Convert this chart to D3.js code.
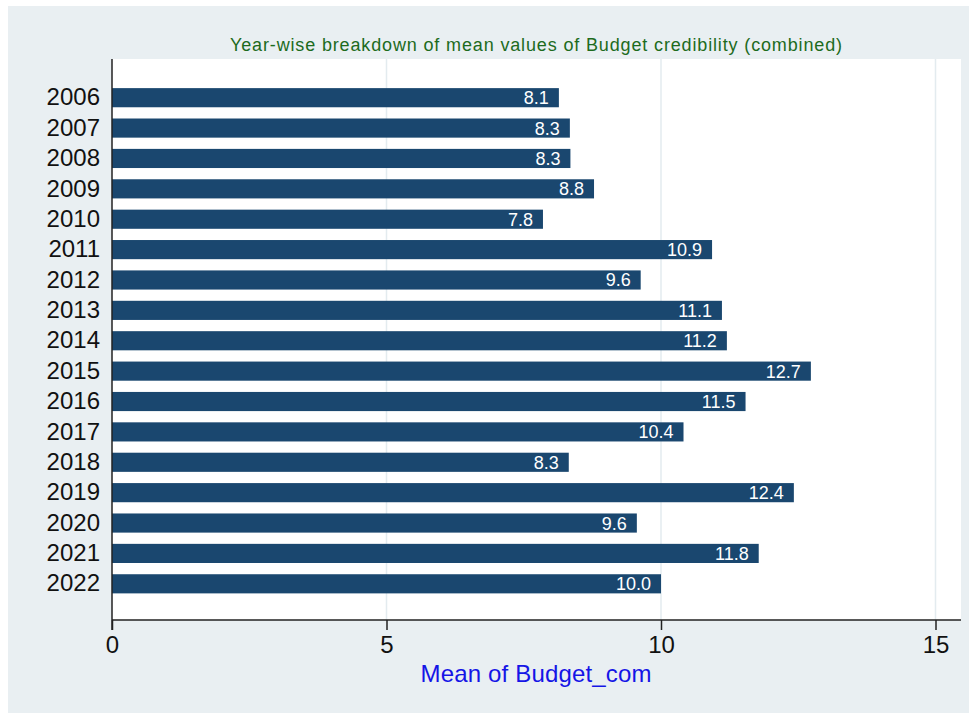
<!DOCTYPE html>
<html lang="en">
<head>
    <meta charset="utf-8">
    <title>Budget credibility by year</title>
    <script src="https://d3js.org/d3.v7.min.js"></script>
    <style>
        body {
            margin: 0;
            background: white;
            font-family: Arial, "Liberation Sans", Helvetica, sans-serif;
        }
    </style>
</head>
<body>
<script>

    var w = 969;
    var h = 713;

    var years = ["2006", "2007", "2008", "2009", "2010", "2011", "2012", "2013", "2014",
                 "2015", "2016", "2017", "2018", "2019", "2020", "2021", "2022"];
    var means = [8.14, 8.34, 8.35, 8.78, 7.85, 10.93, 9.63, 11.11, 11.2,
                 12.73, 11.54, 10.41, 8.32, 12.42, 9.56, 11.78, 10.0];
    var xTicks = [0, 5, 10, 15];

    var plot = {left: 112, right: 961, top: 59, bottom: 620};

    var svg = d3.select("body")
        .append("svg")
        .attr("width", w)
        .attr("height", h);

    //outer graph region
    svg.append("rect")
        .attr("x", 8).attr("y", 6)
        .attr("width", w - 8).attr("height", h - 6)
        .attr("fill", "#e9eff2");

    //plot region
    svg.append("rect")
        .attr("x", plot.left).attr("y", plot.top)
        .attr("width", plot.right - plot.left).attr("height", plot.bottom - plot.top)
        .attr("fill", "white");

    //scales
    var xScale = d3.scaleLinear()
        .domain([0, 15])
        .range([plot.left, 935.5]);

    var yScale = d3.scaleBand()
        .domain(years)
        .range([82.5, 599])
        .paddingInner(0.37)
        .paddingOuter(0.185);

    //grid lines
    svg.selectAll(".grid")
        .data(xTicks.filter(function(d) { return d > 0; }))
        .enter()
        .append("line")
        .attr("class", "grid")
        .attr("x1", function(d) { return xScale(d); })
        .attr("x2", function(d) { return xScale(d); })
        .attr("y1", plot.top)
        .attr("y2", plot.bottom)
        .attr("stroke", "#e3ebef")
        .attr("stroke-width", 1.5);

    //bars
    svg.selectAll(".bar")
        .data(means)
        .enter()
        .append("rect")
        .attr("class", "bar")
        .attr("x", xScale(0))
        .attr("y", function(d, i) { return yScale(years[i]); })
        .attr("width", function(d) { return xScale(d) - xScale(0); })
        .attr("height", yScale.bandwidth())
        .attr("fill", "#1a476f");

    //value labels inside bars
    svg.selectAll(".val")
        .data(means)
        .enter()
        .append("text")
        .attr("class", "val")
        .attr("x", function(d) { return xScale(d) - 10; })
        .attr("y", function(d, i) { return yScale(years[i]) + yScale.bandwidth() / 2 + 6.5; })
        .attr("text-anchor", "end")
        .attr("font-size", "18px")
        .attr("fill", "white")
        .text(function(d) { return d.toFixed(1); });

    //y axis
    var yAxis = d3.axisLeft(yScale).tickSize(0).tickPadding(12);
    var gy = svg.append("g")
        .attr("transform", "translate(" + plot.left + ",0)")
        .call(yAxis);
    gy.select(".domain").remove();
    gy.selectAll("text")
        .attr("font-size", "24px")
        .attr("font-family", "Arial, 'Liberation Sans', sans-serif")
        .attr("fill", "#111");

    //x axis
    var xAxis = d3.axisBottom(xScale).tickValues(xTicks).tickSize(10).tickPadding(6);
    var gx = svg.append("g")
        .attr("transform", "translate(0," + plot.bottom + ")")
        .call(xAxis);
    gx.select(".domain").remove();
    gx.selectAll("line").attr("stroke", "#222").attr("stroke-width", 1.5);
    gx.selectAll("text")
        .attr("font-size", "24px")
        .attr("font-family", "Arial, 'Liberation Sans', sans-serif")
        .attr("fill", "#111");

    //axis lines
    svg.append("line")
        .attr("x1", plot.left).attr("x2", plot.right)
        .attr("y1", plot.bottom).attr("y2", plot.bottom)
        .attr("stroke", "#222").attr("stroke-width", 1.5);
    svg.append("line")
        .attr("x1", plot.left).attr("x2", plot.left)
        .attr("y1", plot.top).attr("y2", plot.bottom + 10)
        .attr("stroke", "#222").attr("stroke-width", 1.5);

    //title (stata renders it wider, so stretch to the same width)
    svg.append("text")
        .attr("x", 536)
        .attr("y", 51)
        .attr("text-anchor", "middle")
        .attr("font-size", "18px")
        .attr("textLength", 612)
        .attr("lengthAdjust", "spacing")
        .attr("fill", "#1d6b1d")
        .text("Year-wise breakdown of mean values of Budget credibility (combined)");

    //x axis title
    svg.append("text")
        .attr("x", 536)
        .attr("y", 682)
        .attr("text-anchor", "middle")
        .attr("font-size", "24px")
        .attr("textLength", 231)
        .attr("lengthAdjust", "spacing")
        .attr("fill", "#1515e6")
        .text("Mean of Budget_com");

</script>
</body>
</html>
